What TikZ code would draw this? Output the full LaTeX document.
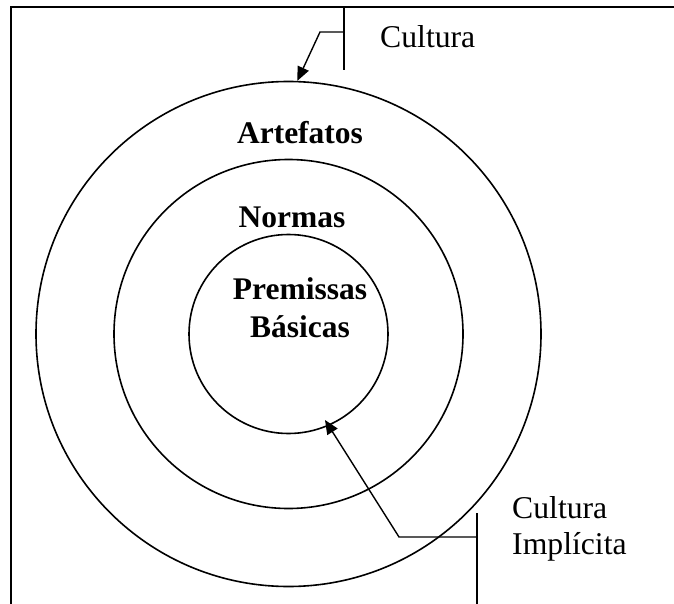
\documentclass[tikz,border=0pt]{standalone}
\usepackage{fontspec}
\setmainfont{Liberation Serif}
\usetikzlibrary{arrows.meta}
\begin{document}
\begin{tikzpicture}[x=1pt,y=-1pt,
  ring/.style={draw,circle,line width=1.6pt,inner sep=0pt},
  lbl/.style={font=\bfseries\fontsize{31.5}{38}\selectfont,align=center,inner sep=0pt,anchor=base},
  side/.style={font=\fontsize{31.7}{36}\selectfont,align=left,inner sep=0pt,anchor=base west},
  callout/.style={line width=1.4pt},
  pointer/.style={line width=1.4pt,-{Triangle[length=14pt,width=12pt]}}]
\useasboundingbox (0,0) rectangle (674,604);
% frame
\coordinate (ftr) at (674,7);
\coordinate (ftl) at (11,7);
\coordinate (fbl) at (11,604);
\draw[line width=2pt] (ftr) -- (ftl) -- (fbl);
% circles
\node[ring,minimum size=505pt] (outer) at (288.5,334) {};
\node[ring,minimum size=349pt] (middle) at (288.5,334) {};
\node[ring,minimum size=199pt] (inner) at (288.5,334) {};
% labels
\node[lbl] (art) at (300,144) {Artefatos};
\node[lbl] (norm) at (292,227) {Normas};
\node[lbl] (prem) at (300,337) {Premissas\\Básicas};
\node[side] (cult) at (380,48) {Cultura};
\node[side] (impl) at (512,554) {Cultura\\Implícita};
% top callout
\coordinate (t1) at (344,7);
\coordinate (t2) at (344,70);
\coordinate (tm) at (344,32);
\coordinate (tk) at (320,32);
\draw[callout] (t1) -- (t2);
\draw[pointer] (tm) -- (tk) -- (outer.88.5);
% bottom callout
\coordinate (b1) at (477,513);
\coordinate (b2) at (477,604);
\coordinate (bm) at (477,537);
\coordinate (bk) at (399,537);
\coordinate (btip) at (325,420);
\draw[callout] (b1) -- (b2);
\draw[pointer] (bm) -- (bk) -- (btip);
\end{tikzpicture}
\end{document}
